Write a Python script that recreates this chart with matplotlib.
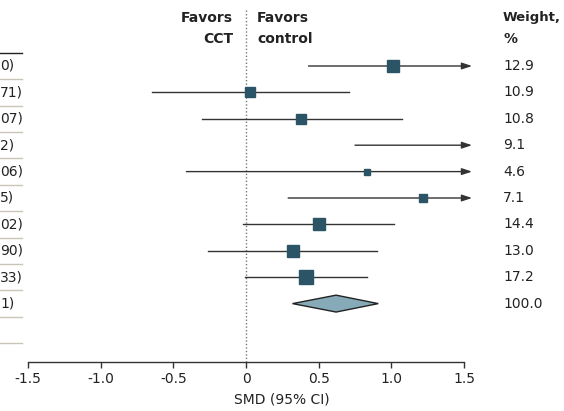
import numpy as np
import matplotlib as mpl
mpl.use("Agg")
import matplotlib.pyplot as plt
from matplotlib.patches import Polygon

# study rows (study names and most of the CI column are cropped off in the original)
est   = [1.01, 0.03, 0.38, 1.54, 0.83, 1.22, 0.50, 0.32, 0.41]
lower = [0.43, -0.65, -0.30, 0.75, -0.41, 0.29, -0.02, -0.26, -0.01]
upper = [1.60, 0.71, 1.07, 2.32, 2.06, 2.15, 1.02, 0.90, 0.83]
weight = ["12.9", "10.9", "10.8", "9.1", "4.6", "7.1", "14.4", "13.0", "17.2"]
# visible end of the SMD (95% CI) text column
ci_tail = ["0)", "71)", "07)", "2)", "06)", "5)", "02)", "90)", "33)", "1)"]
# pooled estimate
pool_est, pool_lo, pool_hi = 0.62, 0.32, 0.91
pool_weight = "100.0"
xticks = [-1.5, -1.0, -0.5, 0, 0.5, 1.0, 1.5]
xticklabels = ["-1.5", "-1.0", "-0.5", "0", "0.5", "1.0", "1.5"]

W, H = 564, 411
PX0, PX1 = 28, 464          # pixel of -1.5 and 1.5
scale = (PX1 - PX0) / 3.0
def px2x(p):
    return -1.5 + (p - PX0) / scale

ROW0, DROW, AXIS = 66, 26.4, 362
def rowy(p):
    return (p - ROW0) / DROW

plt.rcParams['font.family'] = ['DejaVu Sans']
fig = plt.figure(figsize=(W/100, H/100), dpi=100)
ax = fig.add_axes([0, (H - AXIS) / H, 1, AXIS / H])
ax.set_xlim(px2x(0), px2x(W))
ax.set_ylim(rowy(AXIS), rowy(0))

sq_col = "#2b5566"
ln_col = "#333333"
txt_col = "#222222"
fs = 10

# null line
ax.plot([0, 0], [rowy(10), rowy(AXIS)], color="#777777", lw=1, ls=(0, (1, 1.5)), zorder=1)

n = len(est)
for i in range(n):
    if upper[i] > 1.5:
        ax.annotate("", xy=(px2x(472), i), xytext=(lower[i], i),
                    arrowprops=dict(arrowstyle='-|>,head_length=0.6,head_width=0.2',
                                    color=ln_col, lw=1, shrinkA=0, shrinkB=0), zorder=2)
    else:
        ax.plot([lower[i], upper[i]], [i, i], color=ln_col, lw=1, zorder=2)
    if est[i] <= 1.5:
        ms = 3.2 * np.sqrt(float(weight[i])) * 0.72
        ax.plot(est[i], i, marker="s", ms=ms, color=sq_col, mec=sq_col, zorder=3)
    ax.text(px2x(0), i, ci_tail[i], ha="left", va="center", fontsize=fs, color=txt_col)
    ax.text(px2x(503), i, weight[i], ha="left", va="center", fontsize=fs, color=txt_col)

# pooled diamond
dh = 0.32
diamond = Polygon([[pool_lo, n], [pool_est, n - dh], [pool_hi, n], [pool_est, n + dh]],
                  closed=True, facecolor="#86aab7", edgecolor="#222222", lw=1, zorder=3)
ax.add_patch(diamond)
ax.text(px2x(0), n, ci_tail[n], ha="left", va="center", fontsize=fs, color=txt_col)
ax.text(px2x(503), n, pool_weight, ha="left", va="center", fontsize=fs, color=txt_col)

# left table separator lines
for k in range(-1, n + 2):
    c = "#222222" if k == -1 else "#c9c6b8"
    ax.plot([px2x(0), px2x(22)], [k + 0.5, k + 0.5], color=c, lw=1, zorder=1)

# headers
ax.text(px2x(233), rowy(18), "Favors", ha="right", va="center", fontsize=fs, fontweight="bold", color=txt_col)
ax.text(px2x(233), rowy(39), "CCT", ha="right", va="center", fontsize=fs, fontweight="bold", color=txt_col)
ax.text(px2x(257), rowy(18), "Favors", ha="left", va="center", fontsize=fs, fontweight="bold", color=txt_col)
ax.text(px2x(257), rowy(39), "control", ha="left", va="center", fontsize=fs, fontweight="bold", color=txt_col)
ax.text(px2x(503), rowy(18), "Weight,", ha="left", va="center", fontsize=9.5, fontweight="bold", color=txt_col)
ax.text(px2x(503), rowy(39), "%", ha="left", va="center", fontsize=fs, fontweight="bold", color=txt_col)

# axis
for s in ["top", "right", "left"]:
    ax.spines[s].set_visible(False)
ax.spines["bottom"].set_bounds(-1.5, 1.5)
ax.spines["bottom"].set_color("#333333")
ax.spines["bottom"].set_linewidth(1)
ax.set_yticks([])
ax.set_xticks(xticks)
ax.set_xticklabels(xticklabels, fontsize=fs, color=txt_col)
ax.tick_params(axis="x", direction="out", length=4, width=1, color="#333333", pad=3)
ax.set_xlabel("SMD (95% CI)", fontsize=fs, color=txt_col, labelpad=5)
ax.patch.set_alpha(0)

fig.savefig("out.png", dpi=100)
